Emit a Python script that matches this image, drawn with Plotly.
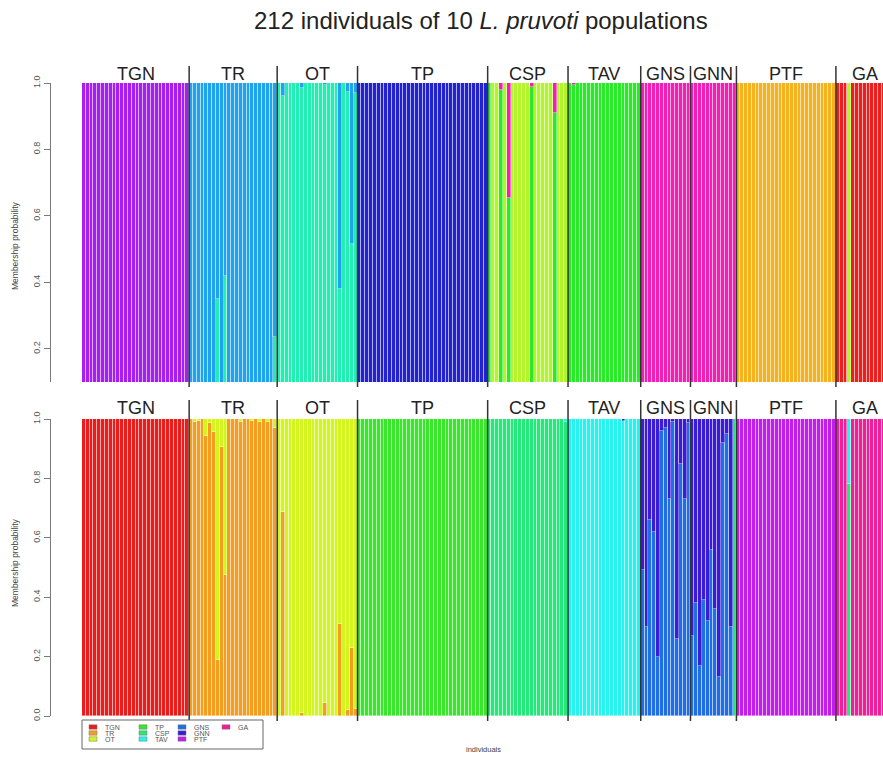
import plotly.graph_objects as go

# ---------------- data ----------------
POPS = ["TGN", "TR", "OT", "TP", "CSP", "TAV", "GNS", "GNN", "PTF", "GA"]
POP_SIZES = [28, 23, 21, 34, 21, 19, 13, 12, 26, 15]

# upper panel: 9 clusters (cluster order = stacking order)
TOP_COLORS = ["#EC1F1F", "#F5B21F", "#B2F52A", "#28EA28", "#22EEB2",
              "#1FA3EE", "#2222CE", "#A51FF0", "#F21FB5"]
TOP_MAIN = [7, 5, 4, 6, 2, 3, 8, 8, 1, 0]          # main cluster of each population
TOP_ADMIX = {                                      # individual -> [(cluster, q)]
    35: [(4, 0.35), (5, 0.65)],
    37: [(4, 0.42), (5, 0.58)],
    50: [(4, 0.235), (5, 0.765)],
    52: [(4, 0.96), (5, 0.04)],
    57: [(4, 0.985), (5, 0.015)],
    63: [(4, 0.994), (5, 0.006)],
    67: [(4, 0.38), (5, 0.62)],
    69: [(4, 0.974), (5, 0.026)],
    70: [(4, 0.515), (5, 0.485)],
    71: [(4, 0.97), (5, 0.03)],
    106: [(3, 1.0)],
    109: [(3, 0.98), (8, 0.02)],
    111: [(3, 0.654), (8, 0.346)],
    117: [(3, 0.988), (8, 0.012)],
    123: [(3, 0.91), (8, 0.09)],
    128: [(3, 0.994), (8, 0.006)],
    200: [(2, 1.0)],
}

# lower panel: 10 clusters, one per population (legend)
BOTTOM_COLORS = ["#EA1D1D", "#F59D1E", "#D3F51F", "#3AE62C", "#25E87B",
                 "#26F2EE", "#1F6EE6", "#3A1BD6", "#C11EEE", "#EF1F98"]
BOTTOM_MAIN = [0, 1, 2, 3, 4, 5, 6, 7, 8, 9]
BOTTOM_ADMIX = {
    29: [(1, 0.99), (2, 0.01)],
    30: [(1, 0.992), (2, 0.008)],
    32: [(1, 0.944), (2, 0.056)],
    33: [(1, 0.985), (2, 0.015)],
    34: [(1, 0.955), (2, 0.045)],
    35: [(1, 0.19), (2, 0.81)],
    36: [(1, 0.905), (2, 0.095)],
    37: [(1, 0.475), (2, 0.525)],
    41: [(1, 0.99), (2, 0.01)],
    44: [(1, 0.993), (2, 0.007)],
    46: [(1, 0.99), (2, 0.01)],
    48: [(1, 0.99), (2, 0.01)],
    50: [(1, 0.97), (2, 0.03)],
    52: [(1, 0.686), (2, 0.314)],
    57: [(1, 0.009), (2, 0.991)],
    63: [(1, 0.045), (2, 0.955)],
    67: [(1, 0.31), (2, 0.69)],
    69: [(1, 0.02), (2, 0.98)],
    70: [(1, 0.228), (2, 0.772)],
    71: [(1, 0.024), (2, 0.976)],
    126: [(4, 0.99), (5, 0.01)],
    141: [(5, 0.994), (7, 0.006)],
    170: [(4, 1.0)],
    200: [(4, 0.78), (5, 0.22)],
}
# GNS / GNN individuals: share of the GNS cluster (remainder = GNN cluster)
GNS_BLUE = [0.49, 0.30, 0.66, 0.62, 0.20, 0.96, 0.97, 0.73, 0.99, 0.26, 0.85, 0.73, 0.985]
GNN_BLUE = [0.27, 0.38, 0.17, 0.39, 0.32, 0.56, 0.36, 0.13, 0.92, 0.95, 0.30]

TOP_TICKS = [0.2, 0.4, 0.6, 0.8, 1.0]
BOTTOM_TICKS = [0.0, 0.2, 0.4, 0.6, 0.8, 1.0]

TITLE_PARTS = ("212 individuals of 10 ", "L. pruvoti", " populations")

# ---------------- build ----------------
N = sum(POP_SIZES)
starts = []
acc = 0
for n in POP_SIZES:
    starts.append(acc)
    acc += n

bottom_admix = dict(BOTTOM_ADMIX)
for j, b in enumerate(GNS_BLUE):
    bottom_admix[starts[6] + j] = [(6, b), (7, 1 - b)]
for j, b in enumerate(GNN_BLUE):
    bottom_admix[starts[7] + j] = [(6, b), (7, 1 - b)]


def build(main, admix, k):
    q = [[None] * N for _ in range(k)]
    for p, n in enumerate(POP_SIZES):
        for j in range(n):
            i = starts[p] + j
            if i in admix:
                for c, v in admix[i]:
                    q[c][i] = v
            else:
                q[main[p]][i] = 1.0
    return q


q_top = build(TOP_MAIN, TOP_ADMIX, len(TOP_COLORS))
q_bot = build(BOTTOM_MAIN, bottom_admix, len(BOTTOM_COLORS))

W, H = 883, 757
FONT = "Liberation Sans, Arial, Helvetica, sans-serif"
SEP = dict(width=0.8, color="rgba(255,255,255,0.5)")


def px(x):
    return x / W


def py(y):
    return 1 - y / H


fig = go.Figure()
xs = list(range(N))
for c, col in enumerate(TOP_COLORS):
    fig.add_trace(go.Bar(x=xs, y=q_top[c], marker=dict(color=col, line=SEP),
                         xaxis="x", yaxis="y", showlegend=False, hoverinfo="skip"))
for c, col in enumerate(BOTTOM_COLORS):
    fig.add_trace(go.Bar(x=xs, y=q_bot[c], marker=dict(color=col, line=SEP),
                         xaxis="x2", yaxis="y2", showlegend=False, hoverinfo="skip"))

pitch = 3.827
x_left = 82
xr = [-0.5, -0.5 + (W - x_left) / pitch]
xax = dict(domain=[px(x_left), 1.0], range=xr, showticklabels=False, showgrid=False,
           zeroline=False, showline=False, ticks="", fixedrange=True)
yax_common = dict(anchor="free", position=px(50), showgrid=False, zeroline=False,
                  showline=True, linecolor="#7a7a7a", linewidth=1, ticks="outside",
                  ticklen=6, tickcolor="#7a7a7a", tickangle=-90,
                  tickfont=dict(size=9, color="#555555", family=FONT), fixedrange=True)

fig.update_layout(
    width=W, height=H, margin=dict(l=0, r=0, t=0, b=0, autoexpand=False),
    paper_bgcolor="white", plot_bgcolor="white",
    barmode="stack", bargap=0.0,
    xaxis=dict(**xax, anchor="y"),
    xaxis2=dict(**xax, anchor="y2"),
    yaxis=dict(**yax_common, domain=[py(382), py(83)], range=[0.1, 1.0],
               tickvals=TOP_TICKS, ticktext=[f"{v:.1f}" for v in TOP_TICKS]),
    yaxis2=dict(**yax_common, domain=[py(716), py(419)], range=[0, 1.0],
                tickvals=BOTTOM_TICKS, ticktext=[f"{v:.1f}" for v in BOTTOM_TICKS]),
    font=dict(family=FONT),
)

shapes = []
annotations = []
# population separators and labels
for p in range(len(POPS)):
    center = starts[p] + (POP_SIZES[p] - 1) / 2
    annotations.append(dict(x=center, y=py(74), xref="x", yref="paper", text=POPS[p],
                            showarrow=False, font=dict(size=18, color="#222222", family=FONT),
                            xanchor="center", yanchor="middle"))
    annotations.append(dict(x=center, y=py(408), xref="x", yref="paper", text=POPS[p],
                            showarrow=False, font=dict(size=18, color="#222222", family=FONT),
                            xanchor="center", yanchor="middle"))
    if p > 0:
        xb = starts[p] - 0.5
        for y0, y1 in ((387, 66), (721, 400)):
            shapes.append(dict(type="line", xref="x", yref="paper", x0=xb, x1=xb,
                               y0=py(y0), y1=py(y1), line=dict(color="#333333", width=1.5),
                               layer="above"))

# title
annotations.append(dict(x=px(481), y=py(21), xref="paper", yref="paper",
                        text=f"{TITLE_PARTS[0]}<i>{TITLE_PARTS[1]}</i>{TITLE_PARTS[2]}",
                        showarrow=False, font=dict(size=24, color="#222222", family=FONT),
                        xanchor="center", yanchor="middle"))
# axis titles
for yc in (246, 563):
    annotations.append(dict(x=px(15), y=py(yc), xref="paper", yref="paper",
                            text="Membership probability", textangle=-90, showarrow=False,
                            font=dict(size=8.5, color="#444444", family=FONT),
                            xanchor="center", yanchor="middle"))
annotations.append(dict(x=px(483), y=py(749), xref="paper", yref="paper", text="individuals",
                        showarrow=False, font=dict(size=7.5, color="#444444", family=FONT),
                        xanchor="center", yanchor="middle"))

# legend box (lower panel clusters)
shapes.append(dict(type="rect", xref="paper", yref="paper", x0=px(82), x1=px(263),
                   y0=py(749), y1=py(720), line=dict(color="#666666", width=1),
                   fillcolor="white", layer="above"))
sw_x = [89, 139, 178, 222]
row_y = [727, 733, 739]
for j, name in enumerate(POPS):
    col, row = j // 3, j % 3
    x0 = sw_x[col]
    yc = row_y[row]
    shapes.append(dict(type="rect", xref="paper", yref="paper", x0=px(x0), x1=px(x0 + 8),
                       y0=py(yc + 2.2), y1=py(yc - 2.2), fillcolor=BOTTOM_COLORS[j],
                       line=dict(color="#777777", width=0.5), layer="above"))
    annotations.append(dict(x=px(x0 + 14), y=py(yc), xref="paper", yref="paper", text=name,
                            showarrow=False, font=dict(size=7, color="#555555", family=FONT),
                            xanchor="left", yanchor="middle"))

fig.update_layout(shapes=shapes, annotations=annotations)
fig.write_html("out.html", config={"displayModeBar": False},
               post_script="document.body.style.margin='0px';"
                           "document.body.style.overflow='hidden';")
